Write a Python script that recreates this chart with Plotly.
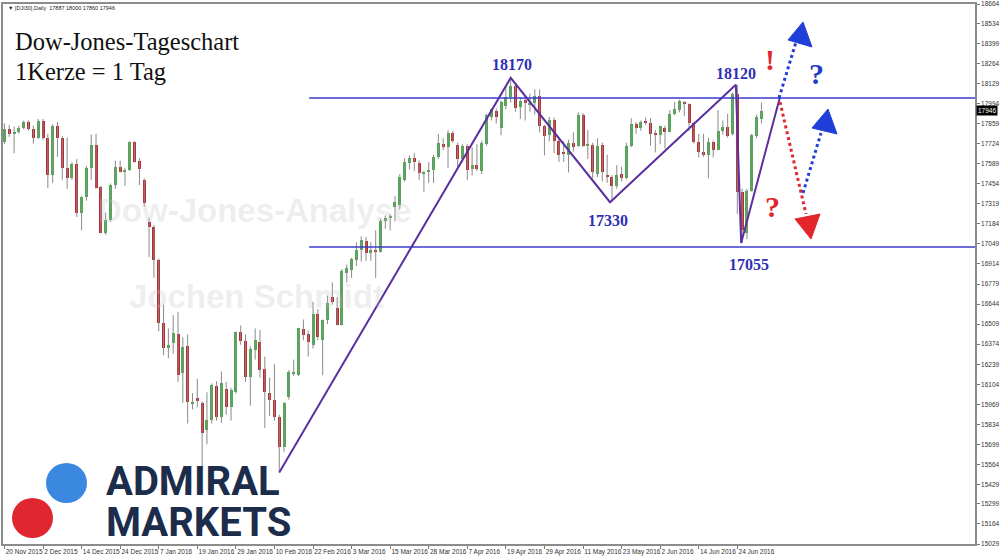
import plotly.graph_objects as go
import pandas as pd

# ---------------- data ----------------
trade_days = [
    ("2015-11", [20, 23, 24, 25, 26, 27, 30]),
    ("2015-12", [1, 2, 3, 4, 7, 8, 9, 10, 11, 14, 15, 16, 17, 18, 21, 22, 23, 24, 28, 29, 30, 31]),
    ("2016-01", [4, 5, 6, 7, 8, 11, 12, 13, 14, 15, 18, 19, 20, 21, 22, 25, 26, 27, 28, 29]),
    ("2016-02", [1, 2, 3, 4, 5, 8, 9, 10, 11, 12, 15, 16, 17, 18, 19, 22, 23, 24, 25, 26, 29]),
    ("2016-03", [1, 2, 3, 4, 7, 8, 9, 10, 11, 14, 15, 16, 17, 18, 21, 22, 23, 24, 28, 29, 30, 31]),
    ("2016-04", [1, 4, 5, 6, 7, 8, 11, 12, 13, 14, 15, 18, 19, 20, 21, 22, 25, 26, 27, 28, 29]),
    ("2016-05", [2, 3, 4, 5, 6, 9, 10, 11, 12, 13, 16, 17, 18, 19, 20, 23, 24, 25, 26, 27, 30, 31]),
    ("2016-06", [1, 2, 3, 6, 7, 8, 9, 10, 13, 14, 15, 16, 17, 20, 21, 22, 23, 24, 27, 28, 29, 30]),
    ("2016-07", [1]),
]
dates = [f"{ym}-{d:02d}" for ym, ds in trade_days for d in ds]

opens = [
    17735, 17825, 17790, 17800, 17830, 17870, 17825, 17765, 17875, 17765,
    17510, 17840, 17765, 17560, 17495, 17585, 17255, 17365, 17560, 17715,
    17430, 17125, 17210, 17445, 17570, 17535, 17545, 17735, 17610, 17480,
    17195, 17165, 16940, 16520, 16350, 16380, 16440, 16180, 16360, 15970,
    16015, 15980, 15795, 15865, 16095, 15885, 16070, 15950, 16050, 16455,
    16395, 16150, 16335, 16390, 16210, 16045, 15998, 15885, 15680, 16020,
    16180, 16165, 16475, 16440, 16370, 16575, 16405, 16535, 16690, 16620,
    16505, 16855, 16875, 16940, 17005, 17070, 16985, 17005, 16995, 17200,
    17225, 17300, 17310, 17480, 17595, 17630, 17595, 17525, 17530, 17545,
    17635, 17720, 17700, 17795, 17715, 17620, 17705, 17550, 17580, 17540,
    17720, 17905, 17945, 17830, 17975, 18040, 18110, 17970, 18020, 17990,
    17995, 18045, 17840, 17780, 17880, 17745, 17670, 17650, 17730, 17705,
    17920, 17710, 17715, 17520, 17715, 17510, 17500, 17440, 17520, 17490,
    17710, 17855, 17830, 17875, 17860, 17790, 17785, 17830, 17805, 17925,
    17950, 18005, 17990, 17860, 17735, 17670, 17650, 17735, 17680, 17810,
    17835, 17790, 18055, 17400, 17120, 17405, 17775, 17887,
]
highs = [
    17860, 17850, 17840, 17845, 17880, 17880, 17845, 17890, 17890, 17790,
    17855, 17870, 17775, 17765, 17600, 17620, 17370, 17575, 17785, 17790,
    17440, 17260, 17455, 17610, 17610, 17560, 17740, 17740, 17625, 17490,
    17225, 17175, 16950, 16640, 16480, 16570, 16590, 16420, 16440, 16045,
    16140, 15990, 16050, 16110, 16125, 16190, 16120, 16080, 16460, 16500,
    16440, 16360, 16480, 16470, 16290, 16150, 16240, 15900, 15985, 16200,
    16270, 16485, 16540, 16465, 16660, 16610, 16540, 16700, 16790, 16690,
    16880, 16910, 16955, 17060, 17100, 17095, 17060, 17140, 17220, 17240,
    17250, 17370, 17520, 17625, 17645, 17660, 17610, 17540, 17600, 17650,
    17790, 17760, 17815, 17810, 17730, 17720, 17720, 17700, 17720, 17745,
    17925, 17960, 17960, 18015, 18110, 18167, 18125, 18030, 18050, 18060,
    18090, 18090, 17850, 17905, 17900, 17760, 17740, 17750, 17800, 17935,
    17930, 17815, 17730, 17760, 17730, 17650, 17510, 17580, 17570, 17730,
    17895, 17870, 17880, 17900, 17895, 17815, 17845, 17845, 17950, 18005,
    18020, 18010, 17995, 17870, 17790, 17790, 17765, 17745, 17950, 17880,
    17925, 18070, 18120, 17420, 17420, 17790, 17920, 18000,
]
lows = [
    17720, 17770, 17660, 17790, 17820, 17810, 17725, 17755, 17750, 17425,
    17460, 17635, 17480, 17420, 17480, 17230, 17140, 17340, 17480, 17420,
    17120, 17110, 17200, 17420, 17530, 17440, 17540, 17595, 17445, 17300,
    16960, 16820, 16460, 16300, 16280, 16310, 16120, 15980, 15840, 15935,
    15950, 15525, 15700, 15840, 15860, 15845, 15900, 15860, 16040, 16370,
    16120, 15960, 16270, 16150, 15810, 15890, 15860, 15510, 15650, 16000,
    16160, 16160, 16400, 16290, 16345, 16400, 16165, 16510, 16640, 16500,
    16500, 16790, 16820, 16900, 16930, 16935, 16935, 16820, 16990, 17150,
    17140, 17200, 17280, 17470, 17550, 17540, 17480, 17400, 17460, 17460,
    17620, 17680, 17560, 17730, 17560, 17600, 17480, 17510, 17540, 17520,
    17710, 17880, 17860, 17780, 17955, 18000, 17940, 17890, 17880, 17940,
    17920, 17800, 17645, 17740, 17660, 17600, 17600, 17530, 17670, 17700,
    17700, 17620, 17490, 17500, 17470, 17460, 17330, 17420, 17470, 17485,
    17700, 17790, 17810, 17850, 17710, 17665, 17720, 17690, 17800, 17915,
    17935, 17910, 17810, 17725, 17630, 17635, 17490, 17630, 17680, 17785,
    17765, 17780, 17250, 17055, 17080, 17400, 17760, 17860,
]
closes = [
    17825, 17790, 17800, 17830, 17870, 17825, 17765, 17875, 17765, 17510,
    17840, 17765, 17560, 17495, 17585, 17255, 17365, 17560, 17715, 17425,
    17125, 17210, 17445, 17570, 17535, 17545, 17735, 17600, 17550, 17325,
    17165, 16940, 16520, 16350, 16370, 16450, 16165, 16355, 15985, 15985,
    15990, 15775, 15865, 16100, 15885, 16115, 15950, 16065, 16455, 16395,
    16150, 16345, 16400, 16200, 16050, 16000, 15885, 15680, 15980, 16185,
    16190, 16480, 16435, 16390, 16580, 16420, 16535, 16650, 16655, 16505,
    16870, 16885, 16950, 17005, 17075, 16990, 17010, 16995, 17200, 17225,
    17235, 17330, 17500, 17600, 17630, 17600, 17525, 17530, 17545, 17635,
    17725, 17700, 17795, 17740, 17620, 17710, 17545, 17580, 17555, 17725,
    17915, 17955, 17905, 18005, 18040, 18115, 17965, 18010, 17995, 17995,
    18045, 17840, 17775, 17880, 17745, 17650, 17655, 17730, 17700, 17920,
    17710, 17720, 17530, 17710, 17530, 17500, 17440, 17510, 17490, 17710,
    17855, 17830, 17870, 17860, 17790, 17785, 17840, 17805, 17925, 17955,
    18010, 17990, 17860, 17735, 17670, 17650, 17735, 17680, 17810, 17835,
    17775, 18055, 17400, 17140, 17405, 17780, 17905, 17946,
]

tick_labels = ["20 Nov 2015", "2 Dec 2015", "14 Dec 2015", "24 Dec 2015", "7 Jan 2016",
               "19 Jan 2016", "29 Jan 2016", "10 Feb 2016", "22 Feb 2016", "3 Mar 2016",
               "15 Mar 2016", "28 Mar 2016", "7 Apr 2016", "19 Apr 2016", "29 Apr 2016",
               "11 May 2016", "23 May 2016", "2 Jun 2016", "14 Jun 2016", "24 Jun 2016"]
price_ticks = [18664, 18534, 18399, 18264, 18129, 17994, 17859, 17724, 17589, 17454,
               17319, 17184, 17049, 16914, 16779, 16644, 16509, 16374, 16239, 16104,
               15969, 15834, 15699, 15564, 15429, 15299, 15164, 15029]

# analysis drawing (bar index, price)
zigzag_x = [57, 105, 125.6, 151.7, 152.8, 160.8]
zigzag_y = [15510, 18167, 17330, 18120, 17055, 18031]
level_prices = [18031, 17028]
level_start = 63.2
pivot_labels = ["18170", "17330", "18120", "17055"]

# ---------------- figure ----------------
n = len(dates)
idx = list(range(n))
tickvals = [dates.index(pd.to_datetime(t).strftime("%Y-%m-%d")) for t in tick_labels]

W, H = 1000, 559
ML, MR, MT, MB = 3, 25, 4, 15
PW, PH = W - ML - MR, H - MT - MB
XR = [-0.3, 201.3]
YR = [15029, 18664]


def px(x):
    return (x - ML) / PW


def py(y):
    return (H - MB - y) / PH


def dx(x):  # pixel -> bar index
    return XR[0] + (x - ML) / PW * (XR[1] - XR[0])


def dy(y):  # pixel -> price
    return YR[1] - (y - MT) / PH * (YR[1] - YR[0])


GREEN = "#45b04a"
RED = "#c1272d"

wx, wy = [], []
for i in idx:
    wx += [i, i, None]
    wy += [lows[i], highs[i], None]

base = [min(o, c) for o, c in zip(opens, closes)]
height = [max(abs(c - o), 5) for o, c in zip(opens, closes)]
colors = [GREEN if c >= o else RED for o, c in zip(opens, closes)]

fig = go.Figure()
fig.add_trace(go.Scatter(x=wx, y=wy, mode="lines", line=dict(color="#8a8a8a", width=1),
                         hoverinfo="skip", showlegend=False))
fig.add_trace(go.Bar(x=idx, y=height, base=base, width=0.62, marker=dict(color=colors, line=dict(width=0)),
                     showlegend=False, customdata=dates))

# zigzag
fig.add_trace(go.Scatter(x=zigzag_x, y=zigzag_y, mode="lines",
                         line=dict(color="#5b2f9e", width=2), showlegend=False, hoverinfo="skip"))

shapes = []
for lp in level_prices:
    shapes.append(dict(type="line", xref="x", yref="y", x0=level_start, x1=XR[1], y0=lp, y1=lp,
                       line=dict(color="#3b3bcc", width=1.6)))

BLUE_A = "#1f3fd8"
RED_A = "#e3262b"


def dotted(p0, p1, color):
    shapes.append(dict(type="line", xref="x", yref="y", x0=dx(p0[0]), y0=dy(p0[1]),
                       x1=dx(p1[0]), y1=dy(p1[1]), line=dict(color=color, width=3, dash="dot")))


def tri(pts, color):
    path = "M " + " L ".join(f"{dx(a)},{dy(b)}" for a, b in pts) + " Z"
    shapes.append(dict(type="path", xref="x", yref="y", path=path, fillcolor=color,
                       line=dict(color=color, width=1)))


dotted((779, 98), (796, 42), BLUE_A)
tri([(803, 22), (788, 40), (812, 47)], BLUE_A)
dotted((780, 102), (806, 214), RED_A)
tri([(795, 219), (820, 214), (811, 239)], RED_A)
dotted((803, 193), (821, 133), BLUE_A)
tri([(828, 109), (812, 128), (837, 134)], BLUE_A)

ann = []
ann.append(dict(xref="paper", yref="paper", x=px(6), y=py(8), xanchor="left", yanchor="middle",
                text="▼ [DJI30],Daily  17887 18000 17860 17946", showarrow=False,
                font=dict(family="Liberation Sans", size=5.5, color="#222")))
ann.append(dict(xref="paper", yref="paper", x=px(13), y=py(41), xanchor="left", yanchor="middle",
                text="Dow-Jones-Tageschart", showarrow=False,
                font=dict(family="Liberation Serif", size=24.5, color="#111")))
ann.append(dict(xref="paper", yref="paper", x=px(13), y=py(72), xanchor="left", yanchor="middle",
                text="1Kerze = 1 Tag", showarrow=False,
                font=dict(family="Liberation Serif", size=24.5, color="#111")))
# watermark
for t, cx, cy in [("Dow-Jones-Analyse", 255, 211), ("Jochen Schmidt", 256, 297)]:
    ann.append(dict(xref="paper", yref="paper", x=px(cx), y=py(cy), xanchor="center", yanchor="middle",
                    text=f"<b>{t}</b>", showarrow=False,
                    font=dict(family="Liberation Sans", size=33, color="rgba(190,190,190,0.25)")))
# pivot labels
for t, (cx, cy) in zip(pivot_labels, [(512, 65), (608, 220), (736, 73), (749, 264)]):
    ann.append(dict(xref="paper", yref="paper", x=px(cx), y=py(cy), xanchor="center", yanchor="middle",
                    text=f"<b>{t}</b>", showarrow=False,
                    font=dict(family="Liberation Serif", size=16, color="#2f2fb4")))
for t, cx, cy, col in [("!", 770, 59, RED_A), ("?", 816, 73, "#1f3fc8"), ("?", 772, 206, RED_A)]:
    ann.append(dict(xref="paper", yref="paper", x=px(cx), y=py(cy), xanchor="center", yanchor="middle",
                    text=f"<b>{t}</b>", showarrow=False,
                    font=dict(family="Liberation Serif", size=30, color=col)))
# logo text
for t, cy in [("ADMIRAL", 481), ("MARKETS", 522)]:
    ann.append(dict(xref="paper", yref="paper", x=px(104), y=py(cy), xanchor="left", yanchor="middle",
                    text=f"<b>{t}</b>", showarrow=False, height=30,
                    font=dict(family="Roboto", size=40, color="#1b2d4b")))
# current price tag
ann.append(dict(xref="paper", yref="y", x=1.0, y=closes[-1], xanchor="left", yanchor="middle",
                xshift=1, text=str(closes[-1]), showarrow=False, bgcolor="#000", borderpad=1,
                font=dict(family="Liberation Sans", size=6.5, color="#fff")))

# logo circles (pixel positions)
shapes.append(dict(type="circle", xref="paper", yref="paper", x0=px(46), x1=px(87), y0=py(463), y1=py(503),
                   fillcolor="#3b88e0", line=dict(width=0)))
shapes.append(dict(type="circle", xref="paper", yref="paper", x0=px(12), x1=px(53), y0=py(498), y1=py(538),
                   fillcolor="#e0262f", line=dict(width=0)))

fig.update_layout(
    width=W, height=H, margin=dict(l=ML, r=MR, t=MT, b=MB, autoexpand=False),
    paper_bgcolor="white", plot_bgcolor="white", bargap=0, barmode="overlay",
    shapes=shapes, annotations=ann, showlegend=False,
    xaxis=dict(range=XR, tickvals=tickvals, ticktext=tick_labels, ticks="outside", ticklen=3,
               tickcolor="#777", ticklabelposition="outside right", tickangle=0, automargin=False,
               tickfont=dict(family="Liberation Sans", size=6.5, color="#333"),
               showgrid=False, zeroline=False, showline=True, mirror=True, linecolor="#8c8c8c", linewidth=1.5),
    yaxis=dict(range=YR, side="right", tickvals=price_ticks, ticktext=[str(v) for v in price_ticks],
               ticks="outside", ticklen=3, tickcolor="#777", automargin=False,
               tickfont=dict(family="Liberation Sans", size=6.5, color="#333"),
               showgrid=False, zeroline=False, showline=True, mirror=True, linecolor="#8c8c8c", linewidth=1.5),
)

fig.write_html("out.html", config={"displayModeBar": False},
               post_script="document.body.style.margin='0';document.body.style.overflow='hidden';")
